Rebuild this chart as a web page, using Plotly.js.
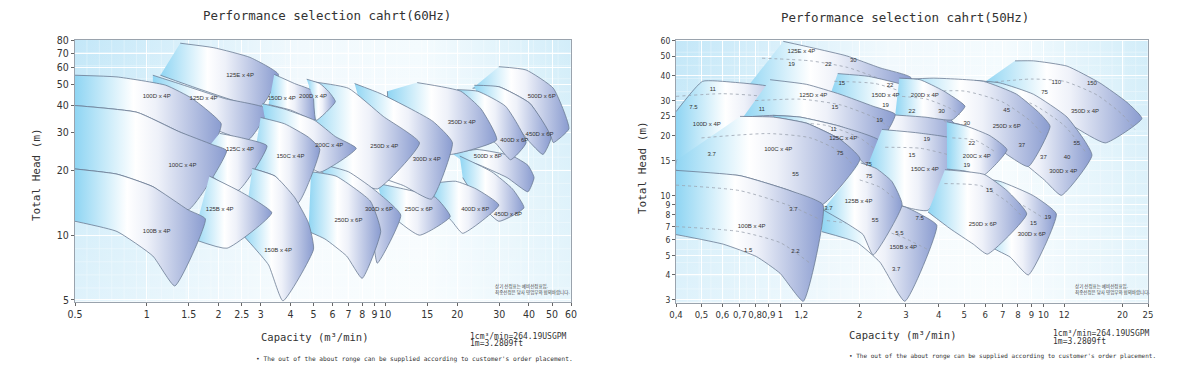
<!DOCTYPE html>
<html><head><meta charset="utf-8">
<script src="https://cdn.plot.ly/plotly-3.0.1.min.js"></script>
<style>html,body{margin:0;padding:0;background:#fff}#chart{width:1200px;height:371px}</style>
</head><body>
<div id="chart"></div>
<script>
// ---------- 60 Hz ----------
const names60 = ["500D x 8P","450D x 8P","400D x 8P","500D x 6P","450D x 6P","400D x 6P","350D x 4P","250C x 6P","300D x 4P","250D x 4P","125E x 4P","150D x 4P","200D x 4P","125D x 4P","100D x 4P","300D x 6P","250D x 6P","200C x 4P","150C x 4P","125C x 4P","100C x 4P","150B x 4P","125B x 4P","100B x 4P"];
const capacity60 = [
 [19.1,24.2,34.1,39.6,42,39.6,32.4,24.2,20.7],
 [20.5,27.9,34.1,38.1,29.9,24.2,21.1],
 [15.7,19.7,24,29.9,21.1,18.9,16.1],
 [29.9,38.9,50.6,58.8,50.6,49.5,40.3,29.9,23.2],
 [23.6,29.9,40.3,49.5,45.8,39.5,32.4,24.2],
 [20,24.4,31.9,38.9,33.5,29.3,23.9,20.7],
 [13.6,20.7,25.2,29.3,18.7,14.6,10.5,10.2],
 [9.25,11.9,16.2,18.7,13.9,9.9],
 [7.43,9.6,15.8,19.1,15.6,11.9,9.56],
 [4.76,7.0,9.8,13.9,9.27,7.0,5.34],
 [1.38,1.91,2.71,3.56,3.0,1.69,1.14],
 [3.42,4.16,5.0,5.08,4.01,3.24],
 [4.68,5.31,5.78,6.17,5.12,5.0],
 [1.06,1.36,2.12,3.21,2.66,1.69,1.2,1.06],
 [0.5,0.75,1.2,1.55,2.05,1.89,1.36,0.91,0.5],
 [5.34,7.0,8.9,11.6,9.25,8.8,7.3,5.8],
 [4.88,6.21,8.65,9.56,7.99,6.88,5.58,4.76],
 [3.05,3.78,5.06,6.17,7.55,5.31,4.31,3.3],
 [3.0,3.78,4.76,5.31,4.3,3.45,2.77],
 [2.02,2.5,3.19,2.41,1.86,1.69],
 [0.5,0.91,1.36,1.89,2.16,1.49,1.06,0.75,0.5],
 [2.77,3.45,4.16,4.76,5.0,3.72,3.24,2.82,2.53],
 [1.83,2.5,3.34,2.17,1.56],
 [0.5,0.75,1.06,1.49,1.76,1.31,1.06,0.75,0.5]
];
const head60 = [
 [23.9,25,23.3,21.1,18.5,15.9,18.5,21.4,22.4],
 [23.3,19.7,16.4,13.4,11.6,14.6,18.5],
 [17.4,17.8,16.4,13.8,10.2,11.7,13.8],
 [60.6,58.5,48.1,31.2,26.9,28.5,41,48.9,48.1],
 [49.7,48.9,41.0,28.5,23.7,27.7,36.5,45.3],
 [47.4,46.6,39.7,26.9,22.4,26.4,32.9,38.5],
 [51.1,46.6,38.5,27.7,23.7,25.9,34,46.6],
 [17.4,16.4,15.0,12.2,10.0,13.1],
 [50.6,45.3,33.8,26.9,14.7,17.0,18.5],
 [51.9,48.1,35.6,26.8,16.4,18.2,19.7],
 [77.9,74.2,66.9,55.8,39.6,47.4,55.3],
 [55.8,50.6,46.5,34.3,38.1,40.4],
 [53.0,50.6,46.5,41.7,34.1,43.1],
 [55.3,50.6,43.1,38.5,27.7,32.9,38.8,45.3],
 [55.3,54.3,49.7,43.1,32.9,26,30.3,37.2,40],
 [21.4,19.7,16.4,12.4,7.41,9.8,13.9,16.4],
 [19.7,18.8,14.4,10.4,6.3,8.0,9.6,10.4],
 [40.8,38.5,34.1,28.7,25.3,19.6,22.4,24.4],
 [35.2,32.9,28.5,25.1,14.1,18.8,20.4],
 [29.7,28.3,26.0,16.1,18.9,23.3],
 [40,37.2,30.3,26.3,24.7,13.1,16.8,19.2,20.3],
 [20.4,18.8,15.0,11.4,8.6,4.95,7.27,8.75,10],
 [18.8,15.8,12.7,8.7,9.6],
 [20.3,19.2,16.8,13.1,11.9,5.81,8.0,10.4,11.6]
];
const labelQ60 = [26.9,32.7,23.8,45.2,44.3,34.7,20.9,13.8,14.9,9.9,2.46,3.68,4.98,1.73,1.10,9.4,7.0,5.82,4.0,2.46,1.41,3.55,2.02,1.10];
const labelH60 = [23.2,12.5,13.2,44.2,29.3,27.5,33.2,13.2,22.5,25.9,55.3,43.1,44.2,43.1,44.2,13.2,11.7,26.2,23.2,24.9,21.0,8.5,13.2,10.4];
const xTicks60 = [0.5,1,1.5,2,2.5,3,4,5,6,7,8,9,10,15,20,30,40,50,60];
const xTickText60 = ["0.5","1","1.5","2","2.5","3","4","5","6","7","8","9","10","15","20","30","40","50","60"];
const yTicks60 = [5,10,20,30,40,50,60,70,80];

// ---------- 50 Hz ----------
const names50 = ["350D x 4P","300D x 4P","250D x 6P","125E x 4P","150D x 4P","200D x 4P","100D x 4P","125D x 4P","125C x 4P","150C x 4P","200C x 4P","300D x 6P","250D x 6P","100C x 4P","150B x 4P","125B x 4P","100B x 4P"];
const capacity50 = [
 [7.8,9.16,12.3,16.4,20.8,23.7,17.2,13.0,9.16,5.91],
 [5.49,6.84,9.16,12.3,15.3,11.7,10.1,8.76],
 [2.85,3.81,5.91,7.91,9.71,10.6,8.76,6.84,5.11,4.3],
 [1.024,1.332,1.785,2.39,3.13,3.1,1.9,1.19,0.72],
 [1.65,2.16,3.03,3.97,4.86,4.69,3.39,2.43,1.84,1.54],
 [2.83,3.39,4.16,5.03,4.49,3.54,2.73],
 [0.4,0.505,0.659,0.873,1.185,1.086,0.701,0.4],
 [0.912,1.257,1.683,2.25,2.73,2.38,1.683,1.185,0.935,0.721],
 [0.935,1.185,1.683,2.39,2.27,2.006,1.683,1.257,0.938],
 [2.43,3.39,4.78,3.64,2.92,2.39,2.15],
 [4.29,5.11,6.26,7.27,5.89,5.03,4.3],
 [5.82,6.84,9.16,11.2,8.76,7.47,6.45,6.0],
 [4.22,5.94,7.27,8.64,6.12,5.41,4.41,3.64],
 [0.701,0.938,1.257,1.683,2.006,1.434,1.086,0.701,0.4,0.4],
 [1.45,2.006,2.92,3.39,3.93,2.97,2.39,1.95,1.434],
 [2.02,2.31,2.65,2.9,2.25,2.06,1.785,1.45],
 [0.4,0.701,1.086,1.45,1.22,0.995,0.811,0.605,0.4]
];
const head50 = [
 [47.5,47.5,44.7,36.8,29.4,24.4,18.4,22.3,29.4,36.8],
 [37.9,36.8,32.3,24.8,15.96,10.04,11.97,14.0],
 [38.2,38.9,37.5,32.3,25.8,22.3,14.0,17.0,22.3,23.5],
 [59.5,55.1,50.3,43.8,39.2,31.7,30,30,33],
 [41,39.7,35.5,28.1,20.7,18.8,20,21.6,25.5,31.7],
 [38.9,38.2,33.6,28.1,24.0,24.8,25.4],
 [26.4,37.5,37.1,35.7,31.7,22.3,18.8,15.0],
 [38.2,36.2,32.3,28.1,25.6,18.7,22.3,24.8,25.3,24.8],
 [25.3,24.8,22.3,18.8,13.1,15.2,19.2,23.1,24.8],
 [21.5,20.6,18.8,8.45,8.86,10.8,14.3],
 [23.5,22.3,20,17.0,12.6,13.3,13.6],
 [12.2,11.8,10.0,8.1,4.0,4.92,5.47,6.72],
 [13.5,12.8,10.6,8.1,5.09,5.71,6.84,8.28],
 [25,24.8,23.1,19.2,15.3,9.0,10.6,12.6,13.4,15],
 [8.5,8.31,8.85,8.09,7.1,2.95,4.63,5.83,6.6],
 [14.6,13.7,11.8,9.0,5.04,6.38,7.26,8.5],
 [13.4,12.6,10.6,9.0,2.95,4.08,4.94,5.71,6.38]
];
// dashed motor-power curves inside the 50 Hz regions (region index, capacity, head)
const dashRegion50 = [0,1,2,3,4,5,6,7,8,9,10,11,12,13,14,15,16,16];
const dashQ50 = [
 [6.2,9,12,16,20,22.3],
 [6.5,9,12,14.5],
 [3.2,5,7,9,10],
 [0.85,1.3,1.8,2.4,3.1],
 [1.6,2.3,3.1,4.0,4.7],
 [2.9,3.6,4.4,4.8],
 [0.4,0.6,0.85,1.1],
 [0.8,1.2,1.7,2.3,2.6],
 [1.0,1.5,2.0,2.3],
 [2.5,3.4,4.4],
 [4.5,5.5,6.6],
 [6.2,8,10.2],
 [4.2,5.8,7.3,8.2],
 [0.5,0.9,1.3,1.7,1.9],
 [1.5,2.2,2.9,3.6],
 [2.0,2.4,2.75],
 [0.4,0.7,1.086,1.41],
 [0.4,0.7,1.0,1.29]
];
const dashH50 = [
 [37,38.5,37.5,32,25.5,21.5],
 [32,29,22.5,16.5],
 [33,33.5,29.5,23.5,20],
 [49,47.5,44,38.5,34],
 [37.5,36.5,32,25.5,19.8],
 [31.5,30.5,27.5,25.5],
 [31.5,32.5,31.5,28.5],
 [30,30.5,28.5,24.5,22],
 [23.5,22.5,19.5,17],
 [17.5,17.3,16],
 [19.5,19,16.5],
 [10,9.2,7.6],
 [11.5,11.2,9.3,8.0],
 [19.5,20.5,19.5,16.5,14],
 [7.5,7.0,6.2,5.4],
 [12,11,9.5],
 [11.3,10.6,8.9,7.6],
 [7.0,6.6,5.8,4.6]
];
const labelQ50 = [14.4,11.9,7.25,1.20,2.51,3.54,0.524,1.332,1.73,3.54,5.58,9.03,5.88,0.98,2.93,1.98,0.776];
const labelH50 = [26.4,13.3,22.3,52.7,31.9,32.0,22.7,32.0,19.3,13.5,15.8,6.38,7.19,17.0,5.47,9.35,7.0];
const kwText50 = ["7.5","11","19","22","30","11","15","19","15","22","19","22","30","11","3.7","75","55","75","75","55","3.7","5.5","7.5","3.7","15","19","22","19","45","37","30","55","40","37","110","150","75","15","15","19","3.7","1.5","2.2"];
const kwQ50 = [0.466,0.552,1.10,1.52,1.89,0.848,1.61,2.38,1.71,2.61,2.51,3.16,4.1,1.59,0.547,1.683,1.14,2.16,2.17,2.29,1.52,2.83,3.38,2.75,3.16,3.6,5.34,5.11,7.25,8.27,5.11,13.4,12.3,10.0,11.2,15.3,10.1,6.23,9.16,10.4,1.12,0.753,1.14];
const kwH50 = [27.8,34.2,45.3,45.3,47.5,27.2,27.8,23.8,36.4,35.8,28.4,26.6,26.4,21.5,16.1,16.3,12.8,14.4,12.5,7.48,8.63,6.49,7.69,4.26,16.0,19.2,18.3,14.1,26.8,17.8,23.1,18.3,15.5,15.5,36.8,36.6,32.9,10.6,7.26,7.76,8.52,5.3,5.22];
const xTicks50 = [0.4,0.5,0.6,0.7,0.8,0.9,1,1.2,2,3,4,5,6,7,8,9,10,12,20,25];
const xTickText50 = ["0,4","0,5","0,6","0,7","0,8","0,9","1","1,2","2","3","4","5","6","7","8","9","10","12","20","25"];
const yTicks50 = [3,4,5,6,7,8,9,10,15,20,25,30,40,50,60];

// ---------- build ----------
const FILL_SCALE = [[0,'#8fd5f3'],[0.4,'#ffffff'],[0.55,'#eef1f9'],[1,'#8a9cd0']];
function region(n, q, h, xa, ya){
  return {type:'scatter',mode:'lines',x:q,y:h,xaxis:xa,yaxis:ya,
    fill:'toself',fillcolor:'#dbe9f6',fillgradient:{type:'horizontal',colorscale:FILL_SCALE},
    line:{color:'#6b7b93',width:0.8,shape:'spline',smoothing:0.45},hoverinfo:'skip',name:n};
}
function dashed(q, h, xa, ya){
  return {type:'scatter',mode:'lines',x:q,y:h,xaxis:xa,yaxis:ya,
    line:{color:'#9aa2ae',width:0.8,dash:'3px,3px',shape:'spline',smoothing:0.6},hoverinfo:'skip'};
}
function labels(txt, qs, hs, xa, ya, size){
  return {type:'scatter',mode:'text',x:qs,y:hs,text:txt,xaxis:xa,yaxis:ya,cliponaxis:false,
    textfont:{family:'Liberation Sans, Arial, sans-serif',size:size,color:'#333'},hoverinfo:'skip'};
}
const traces = [];
names60.forEach((n,i)=>traces.push(region(n,capacity60[i],head60[i],'x','y')));
traces.push(labels(names60, labelQ60, labelH60, 'x', 'y', 6));
names50.forEach((n,i)=>{
  traces.push(region(n,capacity50[i],head50[i],'x2','y2'));
  dashRegion50.forEach((r,k)=>{ if(r===i) traces.push(dashed(dashQ50[k],dashH50[k],'x2','y2')); });
});
traces.push(labels(names50, labelQ50, labelH50, 'x2', 'y2', 6));
traces.push(labels(kwText50, kwQ50, kwH50, 'x2', 'y2', 6));

const W=1200,H=371;
const dom60x=[75/W,571/W], dom60y=[1-301.5/H,1-40/H];
const dom50x=[676/W,1148/W], dom50y=[1-302.5/H,1-39.5/H];
const mono='DejaVu Sans Mono, monospace';
const narrow='Liberation Sans Narrow, DejaVu Sans Condensed, Liberation Sans, sans-serif';
function axisBase(size){return {type:'log',showline:true,mirror:true,linecolor:'#9aa3ad',linewidth:1,
  showgrid:true,gridcolor:'rgba(255,255,255,0.95)',gridwidth:1,zeroline:false,ticks:'outside',ticklen:3,
  tickcolor:'#666',tickfont:{family:narrow,size:size,color:'#333'},tickmode:'array',tickangle:0,fixedrange:true};}

const bgSvg='data:image/svg+xml;charset=utf-8,'+encodeURIComponent(
 '<svg xmlns="http://www.w3.org/2000/svg" width="200" height="100" viewBox="0 0 200 100" preserveAspectRatio="none">'+
 '<defs><linearGradient id="g" x1="0" y1="0" x2="1" y2="0"><stop offset="0" stop-color="#c3e7f8"/><stop offset="0.45" stop-color="#f1f9fd"/><stop offset="0.7" stop-color="#f4fbfe"/><stop offset="1" stop-color="#d2edf9"/></linearGradient>'+
 '<linearGradient id="v" x1="0" y1="0" x2="0" y2="1"><stop offset="0" stop-color="#ffffff" stop-opacity="0"/><stop offset="1" stop-color="#ffffff" stop-opacity="0.45"/></linearGradient>'+
 '<pattern id="p" width="5" height="5" patternUnits="userSpaceOnUse"><path d="M5 0V5M0 5H5" stroke="#ffffff" stroke-opacity="0.45" stroke-width="0.5"/></pattern></defs>'+
 '<rect width="200" height="100" fill="url(#g)"/><rect width="200" height="100" fill="url(#v)"/><rect width="200" height="100" fill="url(#p)"/></svg>');

function ann(text,x,y,opts){return Object.assign({text:text,x:x,y:y,xref:'paper',yref:'paper',showarrow:false,
  font:{family:mono,size:10,color:'#333'},xanchor:'center',yanchor:'middle'},opts||{});}

const layout = {
  width:W,height:H,margin:{l:0,r:0,t:0,b:0},paper_bgcolor:'#ffffff',plot_bgcolor:'rgba(0,0,0,0)',
  showlegend:false,hovermode:false,
  xaxis:Object.assign(axisBase(10.5),{domain:dom60x,anchor:'y',range:[Math.log10(0.5),Math.log10(60)],tickvals:xTicks60,ticktext:xTickText60}),
  yaxis:Object.assign(axisBase(10.5),{domain:dom60y,anchor:'x',range:[Math.log10(4.92),Math.log10(80.6)],tickvals:yTicks60,ticktext:yTicks60.map(String)}),
  xaxis2:Object.assign(axisBase(9.5),{domain:dom50x,anchor:'y2',range:[Math.log10(0.4),Math.log10(25)],tickvals:xTicks50,ticktext:xTickText50}),
  yaxis2:Object.assign(axisBase(8.5),{domain:dom50y,anchor:'x2',range:[Math.log10(2.91),Math.log10(60.8)],tickvals:yTicks50,ticktext:yTicks50.map(String)}),
  images:[
    {source:bgSvg,xref:'paper',yref:'paper',x:dom60x[0],y:dom60y[1],sizex:dom60x[1]-dom60x[0],sizey:dom60y[1]-dom60y[0],sizing:'stretch',layer:'below',xanchor:'left',yanchor:'top'},
    {source:bgSvg,xref:'paper',yref:'paper',x:dom50x[0],y:dom50y[1],sizex:dom50x[1]-dom50x[0],sizey:dom50y[1]-dom50y[0],sizing:'stretch',layer:'below',xanchor:'left',yanchor:'top'}
  ],
  annotations:[
    ann('Performance selection cahrt(60Hz)',327/W,1-15/H,{font:{family:mono,size:12.5,color:'#333'}}),
    ann('Performance selection cahrt(50Hz)',905/W,1-18/H,{font:{family:mono,size:12.5,color:'#333'}}),
    ann('Total Head (m)',36/W,1-175/H,{textangle:-90,font:{family:mono,size:11,color:'#333'}}),
    ann('Total Head (m)',642/W,1-168/H,{textangle:-90,font:{family:mono,size:11,color:'#333'}}),
    ann('Capacity (m³/min)',314/W,1-337/H,{font:{family:mono,size:10.5,color:'#333'}}),
    ann('Capacity (m³/min)',903/W,1-335/H,{font:{family:mono,size:10.5,color:'#333'}}),
    ann('1cm³/min=264.19USGPM',468/W,1-336/H,{xanchor:'left',font:{family:mono,size:8,color:'#333'}}),
    ann('1m=3.2809ft',468/W,1-343/H,{xanchor:'left',font:{family:mono,size:8,color:'#333'}}),
    ann('1cm³/min=264.19USGPM',1051/W,1-333/H,{xanchor:'left',font:{family:mono,size:8,color:'#333'}}),
    ann('1m=3.2809ft',1051/W,1-341/H,{xanchor:'left',font:{family:mono,size:8,color:'#333'}}),
    ann("• The out of the about ronge can be supplied according to customer's order placement.",254/W,1-359/H,{xanchor:'left',font:{family:mono,size:6.2,color:'#333'}}),
    ann("• The out of the about ronge can be supplied according to customer's order placement.",847/W,1-356/H,{xanchor:'left',font:{family:mono,size:6,color:'#333'}}),
    ann('상기 선정표는 예비선정표임.',493/W,1-286/H,{xanchor:'left',font:{family:'Noto Sans CJK KR, sans-serif',size:4.5,color:'#444'}}),
    ann('최종선정은 당사 영업부와 협의바랍니다.',493/W,1-292/H,{xanchor:'left',font:{family:'Noto Sans CJK KR, sans-serif',size:4.5,color:'#444'}}),
    ann('상기 선정표는 예비선정표임.',1073/W,1-286/H,{xanchor:'left',font:{family:'Noto Sans CJK KR, sans-serif',size:4.5,color:'#444'}}),
    ann('최종선정은 당사 영업부와 협의바랍니다.',1073/W,1-292/H,{xanchor:'left',font:{family:'Noto Sans CJK KR, sans-serif',size:4.5,color:'#444'}})
  ]
};
Plotly.newPlot('chart', traces, layout, {staticPlot:true, displayModeBar:false});
</script>
</body></html>
